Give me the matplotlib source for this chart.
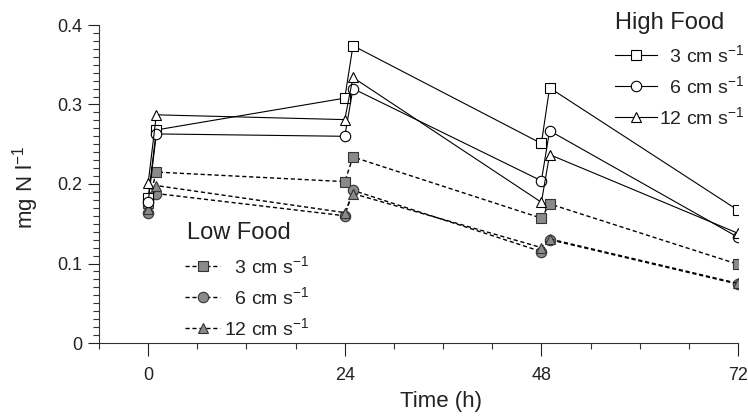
import matplotlib
matplotlib.use('Agg')
import matplotlib.pyplot as plt
from matplotlib.ticker import MultipleLocator, FuncFormatter
from matplotlib.lines import Line2D

plt.rcParams['font.family'] = ['Liberation Sans', 'DejaVu Sans']
plt.rcParams['mathtext.fontset'] = 'custom'
plt.rcParams['mathtext.rm'] = 'Liberation Sans'
plt.rcParams['mathtext.it'] = 'Liberation Sans:italic'

# sampling times (h): before and just after each daily food addition
time_h = [0, 1, 24, 25, 48, 49, 72]

# two leading spaces keep the digits right-aligned like the original
speeds = ['  3 cm s$^{-1}$', '  6 cm s$^{-1}$', '12 cm s$^{-1}$']
markers = ['s', 'o', '^']

high_3 = [0.182, 0.268, 0.308, 0.374, 0.251, 0.321, 0.167]
high_6 = [0.177, 0.263, 0.260, 0.320, 0.204, 0.267, 0.133]
high_12 = [0.201, 0.287, 0.281, 0.334, 0.177, 0.237, 0.138]

low_3 = [0.176, 0.215, 0.203, 0.234, 0.157, 0.175, 0.099]
low_6 = [0.163, 0.188, 0.160, 0.192, 0.115, 0.130, 0.074]
low_12 = [0.169, 0.198, 0.164, 0.188, 0.120, 0.131, 0.075]

high_food = [high_3, high_6, high_12]
low_food = [low_3, low_6, low_12]

W, H = 748, 416
fig = plt.figure(figsize=(W / 100, H / 100), dpi=100)
ax = fig.add_axes([99 / W, 1 - 343 / H, 639 / W, 318 / H])

grey = '#8a8a8a'
dash = (0, (3, 2))
txt = '#222222'

for vals, m in zip(low_food, markers):
    ax.plot(time_h, vals, color='black', linestyle=dash, linewidth=1.0,
            marker=m, markersize=7.5, markerfacecolor=grey,
            markeredgecolor='#333333', markeredgewidth=0.8)

for vals, m in zip(high_food, markers):
    ax.plot(time_h, vals, color='black', linestyle='-', linewidth=0.8,
            marker=m, markersize=7.5, markerfacecolor='white',
            markeredgecolor='black', markeredgewidth=0.8)

ax.set_xlim(-6, 72)
ax.set_ylim(0, 0.4)
ax.xaxis.set_major_locator(MultipleLocator(24))
ax.xaxis.set_minor_locator(MultipleLocator(6))
ax.yaxis.set_major_locator(MultipleLocator(0.1))
ax.yaxis.set_minor_locator(MultipleLocator(0.01))
ax.yaxis.set_major_formatter(FuncFormatter(lambda v, p: '0' if abs(v) < 1e-9 else '%.1f' % v))

ax.spines['top'].set_visible(False)
ax.spines['right'].set_visible(False)
for s in ['left', 'bottom']:
    ax.spines[s].set_linewidth(0.8)
    ax.spines[s].set_color('#333333')
ax.tick_params(which='major', width=0.8, labelsize=13, colors=txt)
ax.tick_params(axis='x', which='major', length=9, pad=8.5)
ax.tick_params(axis='y', which='major', length=8, pad=4)
ax.tick_params(which='minor', length=4, width=0.8, colors='#333333')

ax.set_xlabel('Time (h)', fontsize=16, color=txt)
ax.xaxis.set_label_coords(0.535, -0.151)
ax.set_ylabel('mg N l$^{-1}$', fontsize=16, color=txt)
ax.yaxis.set_label_coords(-0.09, 0.49)

high_handles = [Line2D([], [], color='black', linewidth=0.8, marker=m, markersize=7.5,
                       markerfacecolor='white', markeredgecolor='black',
                       markeredgewidth=0.8) for m in markers]
low_handles = [Line2D([], [], color='black', linestyle=dash, linewidth=1.0, marker=m,
                      markersize=7.5, markerfacecolor=grey, markeredgecolor='#333333',
                      markeredgewidth=0.8) for m in markers]

# legend titles are drawn as separate text so the gap to the entries matches
fig.text(615 / W, 1 - 23 / H, 'High Food', fontsize=17, color=txt, va='center')
fig.text(187 / W, 1 - 233 / H, 'Low Food', fontsize=17, color=txt, va='center')

leg_high = ax.legend(high_handles, speeds, loc='center left',
                     bbox_to_anchor=(615 / W, 1 - 86 / H), bbox_transform=fig.transFigure,
                     frameon=False, fontsize=14, handlelength=2.15, handletextpad=0.1,
                     labelspacing=0.47, borderpad=0, borderaxespad=0, labelcolor=txt)
ax.add_artist(leg_high)
ax.legend(low_handles, speeds, loc='center left',
          bbox_to_anchor=(185 / W, 1 - 297 / H), bbox_transform=fig.transFigure,
          frameon=False, fontsize=14, handlelength=1.8, handletextpad=0.2,
          labelspacing=0.47, borderpad=0, borderaxespad=0, labelcolor=txt)

fig.savefig('out.png', dpi=100)
